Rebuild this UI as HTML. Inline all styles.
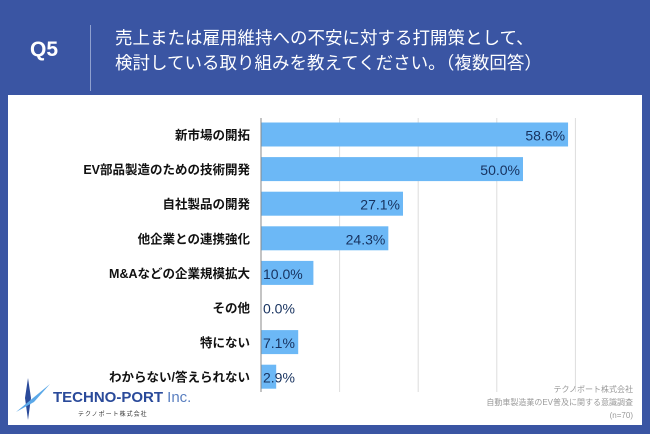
<!DOCTYPE html>
<html><head><meta charset="utf-8"><style>
body{margin:0;width:650px;height:434px;background:#3a55a3;font-family:"Liberation Sans","Noto Sans CJK JP",sans-serif;position:relative;overflow:hidden}
.abs{position:absolute}
</style></head><body>
<div class="abs" style="left:30px;top:38px;color:#fff;font-size:21px;font-weight:bold">Q5</div>
<div class="abs" style="left:90px;top:25px;width:1px;height:66px;background:#8fa0cf"></div>
<div class="abs" style="left:115px;top:26px;color:#fff;font-size:17.5px;line-height:25px">売上または雇用維持への不安に対する打開策として、<br>検討している取り組みを教えてください。（複数回答）</div>
<div class="abs" style="left:8px;top:95px;width:634px;height:330px;background:#fff"></div>
<svg class="abs" style="left:0;top:0" width="650" height="434" id="chart"></svg>
<svg class="abs" style="left:14px;top:376px" width="40" height="46"><path d="M14 2 L17 22 L14 44 L11 22 Z" fill="#2a4a9a"/><path d="M2 36 L36 8 L20 26 Z" fill="#5aa8e8"/></svg>
<div class="abs" style="left:53px;top:389px;color:#2a4a9a;font-size:15px;font-weight:bold">TECHNO-PORT <span style="color:#5a7fc0;font-weight:normal">Inc.</span></div>
<div class="abs" style="left:78px;top:409px;color:#333;font-size:6px;letter-spacing:1px">テクノポート株式会社</div>
<div class="abs" style="right:17px;top:383px;color:#999;font-size:8px;line-height:13px;text-align:right">テクノポート株式会社<br>自動車製造業のEV普及に関する意識調査<br>(n=70)</div>
<script>
const categories=["新市場の開拓","EV部品製造のための技術開発","自社製品の開発","他企業との連携強化","M&Aなどの企業規模拡大","その他","特にない","わからない/答えられない"];
const values=[58.6,50.0,27.1,24.3,10.0,0.0,7.1,2.9];
const ticks=[15,30,45,60];
const svg=document.getElementById('chart');const NS='http://www.w3.org/2000/svg';
const x0=261,pxPer=5.24,y0=134.5,step=34.6,bh=24;
const xs=v=>x0+v*pxPer, ys=i=>y0+i*step;
function mk(t,a){const e=document.createElementNS(NS,t);for(const k in a)e.setAttribute(k,a[k]);svg.appendChild(e);return e;}
ticks.forEach(t=>{const l=mk('line',{x1:xs(t),x2:xs(t),y1:118,y2:392,stroke:'#ddd','stroke-width':1});

});
categories.forEach((c,i)=>{
const r=mk('rect',{x:x0,y:ys(i)-bh/2,width:values[i]*pxPer,height:bh,fill:'#6cb8f6'});


const lb=mk('text',{x:250,y:ys(i)+5,'text-anchor':'end','font-size':'12.5','font-weight':'bold',fill:'#111'});lb.textContent=c;


const v=mk('text',{x:xs(values[i])-3,y:ys(i)+6,'text-anchor':values[i]<12?'start':'end','font-size':'14',fill:'#17325f'});
if(values[i]<12)v.setAttribute('x',x0+2);
v.textContent=values[i].toFixed(1)+'%';

});
const ax=mk('line',{x1:x0,x2:x0,y1:118,y2:392,stroke:'#888','stroke-width':1});


</script>
</body></html>
